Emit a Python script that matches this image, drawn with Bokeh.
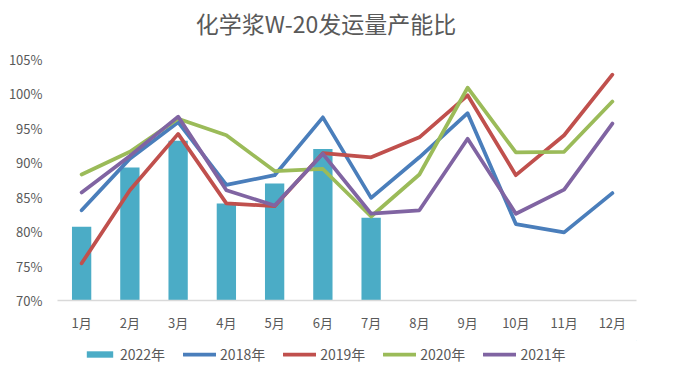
from bokeh.plotting import figure
from bokeh.layouts import column
from bokeh.models import (FactorRange, Range1d, Legend, LegendItem, Label,
                          FixedTicker, PrintfTickFormatter)
from bokeh.embed import file_html
from bokeh.resources import INLINE

months = ["1月", "2月", "3月", "4月", "5月", "6月", "7月", "8月", "9月", "10月", "11月", "12月"]
y2022 = [80.7, 89.3, 93.2, 84.1, 87.0, 92.0, 82.0]
y2018 = [83.1, 90.6, 95.9, 86.8, 88.2, 96.6, 84.9, 90.8, 97.2, 81.1, 79.9, 85.6]
y2019 = [75.4, 86.0, 94.2, 84.1, 83.7, 91.4, 90.8, 93.7, 99.8, 88.2, 94.0, 102.8]
y2020 = [88.3, 91.6, 96.4, 94.0, 88.8, 89.1, 82.2, 88.3, 100.9, 91.5, 91.6, 98.9]
y2021 = [85.7, 91.0, 96.7, 86.0, 83.8, 91.3, 82.6, 83.1, 93.5, 82.6, 86.1, 95.7]
yticks = [70, 75, 80, 85, 90, 95, 100, 105]
title_text = "化学浆W-20发运量产能比"

FONT = "Noto Sans CJK SC"
TXT = "#595959"
BAR_COLOR = "#4BACC6"
series = [("2018年", y2018, "#4A7EBB"), ("2019年", y2019, "#C0504D"),
          ("2020年", y2020, "#9BBB59"), ("2021年", y2021, "#8064A2")]

W = 689
TH, LH = 44, 28
BL, BR = 57, 53   # left / right borders shared by all three strips

# title strip
tf = figure(width=W, height=TH, output_backend="svg", toolbar_location=None,
            x_range=Range1d(0, 1), y_range=Range1d(0, 1),
            min_border_left=BL, min_border_right=BR, min_border_top=0, min_border_bottom=0,
            x_axis_type=None, y_axis_type=None)
tf.outline_line_color = None
tf.grid.visible = False
tf.add_layout(Label(x=325.5 - BL, y=TH / 2, x_units="screen", y_units="screen",
                    text=title_text, text_align="center", text_baseline="middle",
                    text_font=FONT, text_font_size="23px", text_color=TXT))

# main chart
p = figure(width=W, height=368 - TH - LH, output_backend="svg", toolbar_location=None,
           x_range=FactorRange(*months, range_padding=0),
           y_range=Range1d(70, 105),
           min_border_left=BL, min_border_right=BR, min_border_top=59 - TH,
           min_border_bottom=368 - TH - LH - (300 - TH))
p.outline_line_color = None
p.xgrid.grid_line_color = None
p.ygrid.grid_line_color = None

p.vbar(x=months[:len(y2022)], top=y2022, bottom=70, width=0.4,
       fill_color=BAR_COLOR, line_color=None)
for name, vals, col in series:
    p.line(x=months, y=vals, line_color=col, line_width=3.75,
           line_join="round", line_cap="round")

p.yaxis.ticker = FixedTicker(ticks=yticks)
p.yaxis.formatter = PrintfTickFormatter(format="%d%%")
p.yaxis.axis_line_color = None
p.yaxis.major_tick_line_color = None
p.yaxis.minor_tick_line_color = None
p.yaxis.major_label_standoff = 9
p.yaxis.major_label_text_font = FONT
p.yaxis.major_label_text_font_size = "13px"
p.yaxis.major_label_text_color = TXT

p.xaxis.axis_line_color = "#D9D9D9"
p.xaxis.axis_line_width = 1.5
p.xaxis.major_tick_line_color = None
p.xaxis.minor_tick_line_color = None
p.xaxis.major_label_standoff = 6
p.xaxis.major_label_text_font = FONT
p.xaxis.major_label_text_font_size = "13px"
p.xaxis.major_label_text_color = TXT

# legend strip (swatch renderers sit outside the strip's visible range)
lg = figure(width=W, height=LH, output_backend="svg", toolbar_location=None,
            x_range=Range1d(0, 1), y_range=Range1d(0, 1),
            min_border_left=BL, min_border_right=BR, min_border_top=0, min_border_bottom=0,
            x_axis_type=None, y_axis_type=None)
lg.outline_line_color = None
lg.grid.visible = False
br = lg.vbar(x=[5], top=[5], bottom=[4], width=0.4, fill_color=BAR_COLOR, line_color=None)
items = [LegendItem(label="2022年", renderers=[br])]
for name, vals, col in series:
    r = lg.line(x=[5, 6], y=[5, 6], line_color=col, line_width=3.75, line_cap="round")
    items.append(LegendItem(label=name, renderers=[r]))

legend = Legend(items=items, orientation="horizontal", location=(83 - BL, 4),
                glyph_width=33, glyph_height=8, label_standoff=4, spacing=18,
                padding=0, margin=0, border_line_color=None, background_fill_alpha=0,
                label_text_font=FONT, label_text_font_size="14px", label_text_color=TXT)
lg.add_layout(legend, "center")

open("out.html", "w").write(file_html(column(tf, p, lg, spacing=0), INLINE))
